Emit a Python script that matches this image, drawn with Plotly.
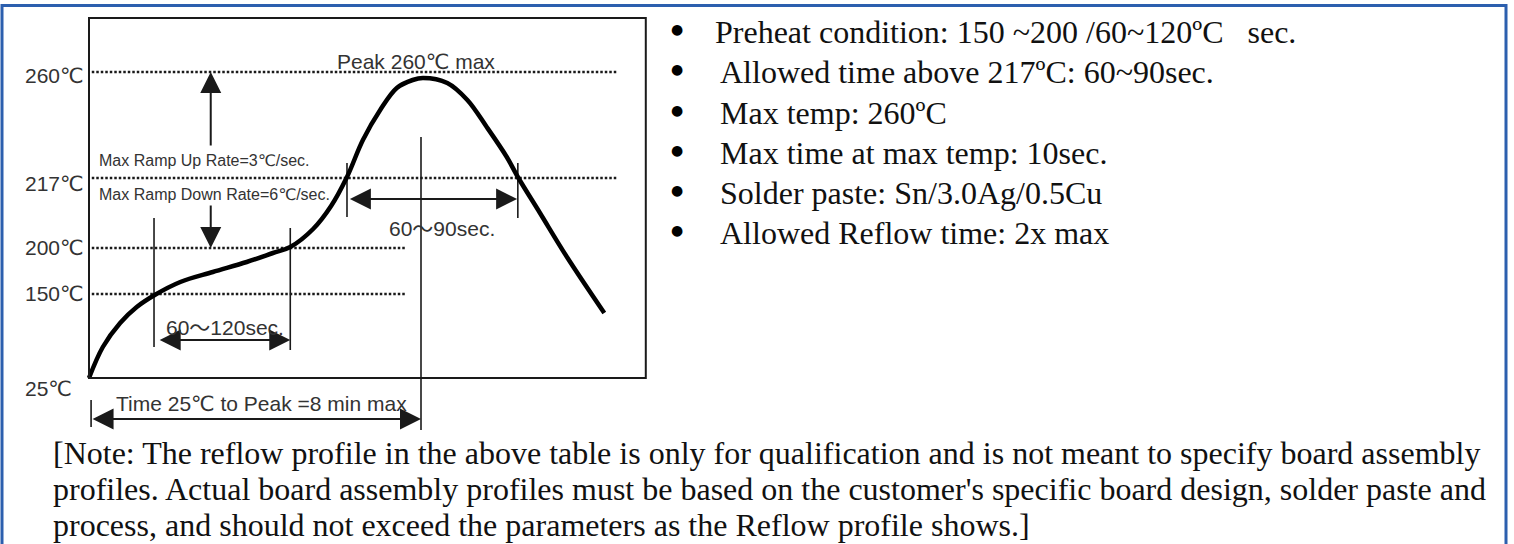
"""Lead-free reflow soldering profile, redrawn with Plotly."""

import plotly.graph_objects as go

W, H = 1514, 544

# temperature levels of the schematic (label, height of the level in the drawing)
temp_labels = ["260℃", "217℃", "200℃", "150℃", "25℃"]
temp_levels = [306, 200, 130, 84, 0]

# reflow curve: time (s, peak near 480) vs schematic height
curve_t = [0, 20, 45, 69, 95, 132, 179, 228, 266, 291, 324, 350, 373, 396,
           421, 445, 468, 483, 518, 547, 575, 604, 620, 652, 691, 745]
curve_h = [0, 31, 55, 71, 83, 96, 106, 116, 125, 131, 149, 172, 201, 238,
           268, 290, 298, 300, 295, 278, 251, 221, 201, 165, 121, 65]

# windows marked on the curve
preheat_window = [94, 291]
above_217_window = [373, 620]
peak_time = 480
ramp_time = 176

bullets = [
    "Preheat condition: 150 ~200 /60~120ºC\u00a0\u00a0 sec.",
    "Allowed time above 217ºC: 60~90sec.",
    "Max temp: 260ºC",
    "Max time at max temp: 10sec.",
    "Solder paste: Sn/3.0Ag/0.5Cu",
    "Allowed Reflow time: 2x max",
]

note_lines = [
    "[Note: The reflow profile in the above table is only for qualification and is not meant to specify board assembly",
    "profiles. Actual board assembly profiles must be based on the customer's specific board design, solder paste and",
    "process, and should not exceed the parameters as the Reflow profile shows.]",
]

# pixel geometry of the drawing
k = 332 / 480          # px per second
x_org = 89             # px of t = 0
y_org = 378            # px (from top) of level 0
box_t, box_h = 805, 360

SANS = "Liberation Sans, Arial, DejaVu Sans, Noto Sans CJK SC"
SERIF = "Liberation Serif, Times New Roman, serif"
INK = "#1a1a1a"
LABEL = "#333"

fig = go.Figure()

# dotted reference lines
line_ends = [763, 763, 457, 457]
for lvl, end in zip(temp_levels[:4], line_ends):
    fig.add_trace(go.Scatter(x=[4, end], y=[lvl, lvl], mode="lines",
                             line=dict(color=INK, width=2.5, dash="2.5px,2px"),
                             hoverinfo="skip"))

# vertical marker lines
verticals = [
    (preheat_window[0], 31, 160),
    (preheat_window[1], 28, 150),
    (above_217_window[0], 161, 215),
    (above_217_window[1], 160, 215),
    (peak_time, -52, 241),
    (3, -49, -22),
]
for t, h0, h1 in verticals:
    fig.add_trace(go.Scatter(x=[t, t], y=[h0, h1], mode="lines",
                             line=dict(color=INK, width=1.6), hoverinfo="skip"))

# the profile curve
fig.add_trace(go.Scatter(x=curve_t, y=curve_h, mode="lines",
                         line=dict(color="black", width=4.5, shape="spline",
                                   smoothing=1.0),
                         hoverinfo="skip"))

# inner frame of the drawing
fig.add_shape(type="rect", xref="x", yref="y", x0=0, x1=box_t, y0=0, y1=box_h,
              line=dict(color=INK, width=2))

# outer blue border
fig.add_shape(type="rect", xref="paper", yref="paper",
              x0=2 / W, x1=1506 / W, y0=-0.1, y1=1 - 5.5 / H,
              line=dict(color="#2c5fae", width=3))


def arrow(t0, h0, t1, h1, both=False):
    fig.add_annotation(x=t1, y=h1, ax=t0, ay=h0, xref="x", yref="y",
                       axref="x", ayref="y", text="", showarrow=True,
                       arrowhead=2, arrowsize=2.1, arrowwidth=2,
                       startarrowhead=2, startarrowsize=2.1,
                       arrowside="end+start" if both else "end",
                       arrowcolor=INK, standoff=0, startstandoff=0)


arrow(ramp_time, 231, ramp_time, 306)
arrow(ramp_time, 174, ramp_time, 130)
arrow(above_217_window[0] + 2, 179, above_217_window[1] - 1, 179, both=True)
arrow(preheat_window[0] + 6, 38, preheat_window[1], 38, both=True)
arrow(3, -41, peak_time, -41, both=True)

# temperature labels on the left
label_h = [303, 195, 131, 85, -10]
for txt, h in zip(temp_labels, label_h):
    fig.add_annotation(x=-95, y=h, xref="x", yref="y", text=txt,
                       showarrow=False, xanchor="left", yanchor="middle",
                       font=dict(family=SANS, size=21, color=LABEL))

chart_texts = [
    ("Peak 260℃ max", 473, 317, "center", 21),
    ("Max Ramp Up Rate=3℃/sec.", 11, 218, "left", 16),
    ("Max Ramp Down Rate=6℃/sec.", 11, 184, "left", 16),
    ("60～90sec.", 510, 150, "center", 21),
    ("60～120sec.", 197, 51, "center", 21),
    ("Time 25℃ to Peak =8 min max", 249, -25, "center", 21),
]
for txt, t, h, anchor, size in chart_texts:
    fig.add_annotation(x=t, y=h, xref="x", yref="y", text=txt,
                       showarrow=False, xanchor=anchor, yanchor="middle",
                       font=dict(family=SANS, size=size, color=LABEL))

# bullet list on the right
row_y = [32, 72, 113, 153, 193, 233]
for i, (txt, y) in enumerate(zip(bullets, row_y)):
    fig.add_annotation(x=677 / W, y=1 - (y - 3) / H, xref="paper",
                       yref="paper", text="●", showarrow=False,
                       xanchor="center", yanchor="middle",
                       font=dict(family="DejaVu Sans", size=14, color="black"))
    fig.add_annotation(x=(713 if i == 0 else 718) / W, y=1 - y / H,
                       xref="paper", yref="paper", text=txt, showarrow=False,
                       xanchor="left", yanchor="middle",
                       font=dict(family=SERIF, size=32, color="#111"))

# note below
for txt, y in zip(note_lines, [453, 489, 525]):
    fig.add_annotation(x=51 / W, y=1 - y / H, xref="paper", yref="paper",
                       text=txt, showarrow=False, xanchor="left",
                       yanchor="middle",
                       font=dict(family=SERIF, size=32, color="#111"))

fig.update_layout(
    width=W, height=H, autosize=False,
    margin=dict(l=0, r=0, t=0, b=0),
    paper_bgcolor="white", plot_bgcolor="white",
    showlegend=False,
    xaxis=dict(domain=[0, 700 / W], range=[-x_org / k, (700 - x_org) / k],
               visible=False, fixedrange=True),
    yaxis=dict(domain=[0, 1], range=[-(H - y_org), y_org],
               visible=False, fixedrange=True),
)

# the page is exactly the figure: drop the browser's default body margin
fig.write_html("out.html",
               config={"displayModeBar": False},
               post_script="document.body.style.margin='0';"
                           "document.body.style.overflow='hidden';")
